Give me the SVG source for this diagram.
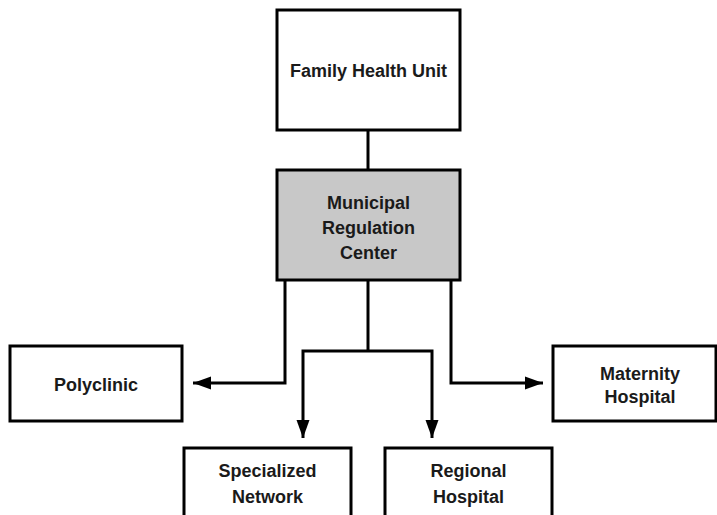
<svg xmlns="http://www.w3.org/2000/svg" width="717" height="515" viewBox="0 0 717 515">
<style>
.box{fill:#ffffff;stroke:#000000;stroke-width:3}
.gray{fill:#c8c8c8}
.t{font-family:"Liberation Sans",Arial,sans-serif;font-weight:bold;font-size:18px;fill:#1a1a1a;text-anchor:middle}
.c{fill:none;stroke:#000000;stroke-width:3}
</style>
<defs>
<marker id="ah" markerUnits="userSpaceOnUse" markerWidth="19" markerHeight="14" refX="18" refY="7" orient="auto">
<path d="M0,0.5 L18,7 L0,13.5 z" fill="#000000"/>
</marker>
</defs>
<g id="connectors">
<line class="c" x1="368" y1="130" x2="368" y2="170"/>
<path class="c" d="M285,280 V383 H193" marker-end="url(#ah)"/>
<path class="c" d="M451,280 V383 H543" marker-end="url(#ah)"/>
<path class="c" d="M368,280 V351"/>
<path class="c" d="M368,351 H303 V438" marker-end="url(#ah)"/>
<path class="c" d="M368,351 H432 V438" marker-end="url(#ah)"/>
</g>
<g id="family-health-unit">
<rect class="box" x="277" y="10" width="183" height="120"/>
<text class="t" x="368.5" y="77">Family Health Unit</text>
</g>
<g id="municipal-regulation-center">
<rect class="box gray" x="277" y="170" width="183" height="110"/>
<text class="t" x="368.5" y="209">Municipal</text>
<text class="t" x="368.5" y="234">Regulation</text>
<text class="t" x="368.5" y="259">Center</text>
</g>
<g id="polyclinic">
<rect class="box" x="10" y="346" width="172" height="75"/>
<text class="t" x="96" y="391">Polyclinic</text>
</g>
<g id="maternity-hospital">
<rect class="box" x="553" y="346" width="163" height="75"/>
<text class="t" x="640" y="380">Maternity</text>
<text class="t" x="640" y="403">Hospital</text>
</g>
<g id="specialized-network">
<rect class="box" x="184" y="448" width="167" height="80"/>
<text class="t" x="267.5" y="477">Specialized</text>
<text class="t" x="267.5" y="503">Network</text>
</g>
<g id="regional-hospital">
<rect class="box" x="385" y="448" width="167" height="80"/>
<text class="t" x="468.5" y="477">Regional</text>
<text class="t" x="468.5" y="503">Hospital</text>
</g>
</svg>
